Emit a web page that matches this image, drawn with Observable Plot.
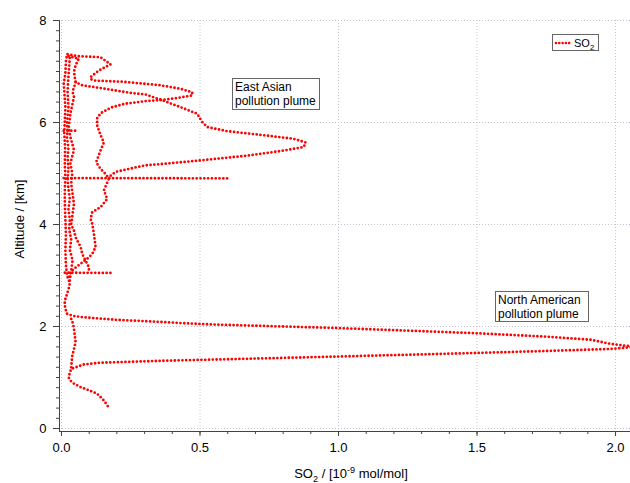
<!DOCTYPE html>
<html><head><meta charset="utf-8">
<script src="https://cdn.jsdelivr.net/npm/d3@7"></script>
<script src="https://cdn.jsdelivr.net/npm/@observablehq/plot@0.6"></script>
<style>
body{margin:0;background:#fff;font-family:"Liberation Sans",Arial,sans-serif;color:#000}
#wrap{position:relative;width:630px;height:483px;overflow:hidden}
.ov{position:absolute;white-space:nowrap}
.box{position:absolute;border:1px solid #666;background:#fff;font-size:12px;line-height:14px;padding:1px 2px 1px 2px;box-sizing:border-box;white-space:nowrap}
sub,sup{font-size:70%;line-height:0}
</style></head>
<body><div id="wrap"></div>
<script>
// [SO2 (10^-9 mol/mol), altitude (km)]
const lowProfileAndNAPlume = [
  [0.167,0.44],[0.153,0.55],[0.129,0.68],[0.099,0.75],[0.069,0.81],[0.045,0.88],[0.032,0.94],[0.026,1.00],
  [0.030,1.09],[0.035,1.17],[0.057,1.21],[0.080,1.255],[0.140,1.29],[0.260,1.31],[0.380,1.33],[0.540,1.35],
  [0.995,1.41],[1.488,1.48],[1.753,1.52],[1.982,1.56],[2.070,1.60],[1.982,1.66],[1.910,1.74],[1.753,1.80],
  [1.488,1.87],[0.995,1.97],[0.540,2.04],[0.440,2.065],[0.320,2.10],[0.200,2.13],[0.080,2.18],[0.040,2.21],
  [0.020,2.25],[0.014,2.35],[0.011,2.44],[0.014,2.54],[0.020,2.64],[0.026,2.74],[0.030,2.85],
  [0.020,3.00],[0.016,3.20],[0.014,3.50],[0.016,3.80],[0.014,4.10],[0.012,4.40],[0.012,4.70],[0.014,4.90],
  [0.012,5.20],[0.013,5.50],[0.010,5.80],[0.012,6.04],[0.014,6.30],[0.008,6.76],[0.014,6.96],[0.016,7.20],[0.020,7.34],
  [0.060,7.30],[0.141,7.28],[0.177,7.14],[0.135,7.02],[0.105,6.89],[0.105,6.85],[0.123,6.82],[0.219,6.80],
  [0.280,6.77],[0.357,6.73],[0.430,6.66],[0.472,6.59],[0.472,6.53],[0.405,6.47],[0.357,6.44],[0.303,6.42],
  [0.249,6.38],[0.231,6.37],[0.183,6.30],[0.147,6.20],[0.129,6.10],[0.129,5.94],[0.141,5.75],[0.153,5.61],
  [0.141,5.45],[0.125,5.22],[0.141,5.09],[0.159,4.99],[0.171,4.90],[0.153,4.67],[0.165,4.50],[0.141,4.34],
  [0.111,4.24],[0.105,4.11],[0.111,4.01],[0.117,3.82],[0.123,3.56],[0.111,3.42],[0.093,3.33],[0.069,3.23],
  [0.045,3.13],[0.032,3.06],[0.028,2.95]
];
const columnBelowPlume = [
  [0.035,1.20],[0.039,1.43],[0.045,1.56],[0.051,1.69],[0.048,1.82],[0.045,1.95],[0.042,2.05],[0.035,2.15],[0.040,2.21]
];
const eastAsianPlume = [
  [0.026,7.30],[0.062,7.25],[0.051,7.12],[0.045,6.99],[0.051,6.79],[0.075,6.73],[0.159,6.66],[0.249,6.58],
  [0.303,6.55],[0.357,6.45],[0.430,6.30],[0.490,6.17],[0.508,6.01],[0.526,5.91],[0.598,5.83],[0.730,5.75],
  [0.838,5.68],[0.881,5.61],[0.875,5.52],[0.803,5.45],[0.670,5.35],[0.490,5.25],[0.370,5.19],[0.303,5.16],
  [0.243,5.09],[0.195,5.03],[0.171,4.93]
];
const columnMiddle = [
  [0.051,6.79],[0.040,6.60],[0.045,6.50],[0.032,6.17],[0.026,5.91],[0.032,5.72],[0.045,5.46],[0.032,5.20],
  [0.039,5.00],[0.035,4.80],[0.040,4.60],[0.045,4.40],[0.040,4.20],[0.035,4.00],[0.045,3.88],[0.051,3.75],
  [0.069,3.56],[0.075,3.42],[0.087,3.29],[0.099,3.16],[0.099,3.08]
];
const columnRight = [
  [0.030,2.90],[0.035,3.10],[0.040,3.30],[0.030,3.50],[0.035,3.70],[0.028,3.90],[0.030,4.10],[0.025,4.30],
  [0.030,4.50],[0.025,4.70],[0.022,4.90],[0.025,5.10],[0.022,5.30],[0.025,5.50],[0.020,5.70],[0.022,5.85],
  [0.020,6.00],[0.025,6.30],[0.022,6.60],[0.025,6.90],[0.028,7.10],[0.030,7.30]
];
const levelLeg49 = [[0.008,4.91],[0.610,4.905]];
const levelLeg305 = [[0.012,3.055],[0.177,3.05]];
const levelLeg584 = [[0.008,5.84],[0.057,5.84]];

const xMajor = [0, 0.5, 1.0, 1.5, 2.0];
const xMinor = d3.range(0, 2.05, 0.1);
const yMajor = [0, 2, 4, 6, 8];
const yMinor = d3.range(0, 8.01, 0.2);

const segs = [["a", lowProfileAndNAPlume], ["b", columnBelowPlume], ["c", eastAsianPlume],
  ["d", columnMiddle], ["e", columnRight], ["f", levelLeg49], ["g", levelLeg305], ["h", levelLeg584]];
const data = segs.flatMap(([id, pts]) => pts.map(([so2, alt]) => ({id, so2, alt})));

const xDomain = [-0.0072, 2.054];
const yDomain = [-0.0588, 8];
const grid = {stroke: "#c4c4d0", strokeOpacity: 1, strokeDasharray: "1,2"};

const chart = Plot.plot({
  width: 630, height: 483,
  marginLeft: 59, marginRight: 0, marginTop: 20, marginBottom: 52,
  style: {fontFamily: "'Liberation Sans', Arial, sans-serif", fontSize: "13px", background: "white", color: "#000"},
  x: {domain: xDomain, label: null},
  y: {domain: yDomain, label: null},
  marks: [
    Plot.gridX(xMajor, grid),
    Plot.gridY(yMajor, grid),
    Plot.line(data, {x: "so2", y: "alt", z: "id", stroke: "#ff0000", strokeWidth: 2.8,
      strokeDasharray: "0 3.8", strokeLinecap: "round", clip: true}),
    Plot.ruleX([xDomain[0]], {stroke: "#444"}),
    Plot.ruleY([yDomain[0]], {stroke: "#444"}),
    Plot.axisX(xMinor, {tickSize: 3, tickFormat: () => "", stroke: "#444", label: null}),
    Plot.axisX(xMajor, {tickSize: 5, tickPadding: 6, tickFormat: d3.format(".1f"), stroke: "#444", fill: "#000", label: null}),
    Plot.axisY(yMinor, {tickSize: 3, tickFormat: () => "", stroke: "#444", label: null}),
    Plot.axisY(yMajor, {tickSize: 6, tickPadding: 7, tickFormat: d => d, stroke: "#444", fill: "#000", label: null})
  ]
});
const wrap = document.getElementById("wrap");
wrap.appendChild(chart);
wrap.insertAdjacentHTML("beforeend", `
<div class="ov" style="left:19px;top:219px;font-size:13px;transform:translate(-50%,-50%) rotate(-90deg)">Altitude / [km]</div>
<div class="ov" style="left:351px;top:466px;font-size:13px;transform:translateX(-50%)">SO<sub>2</sub> / [10<sup>-9</sup> mol/mol]</div>
<div class="box" style="left:232px;top:78px;width:88px;height:32px">East Asian<br>pollution plume</div>
<div class="box" style="left:495px;top:291px;width:94px;height:31px">North American<br>pollution plume</div>
<div class="box" style="left:552px;top:34px;width:47px;height:17px;font-size:11px;line-height:14px;padding:0 1px;display:flex;align-items:center">
<svg width="18" height="6" style="margin-right:2px;flex:none"><line x1="2" y1="3" x2="17" y2="3" stroke="#f00" stroke-width="2.6" stroke-dasharray="0 3.3" stroke-linecap="round"/></svg><span>SO<sub>2</sub></span></div>
`);
</script>
</body></html>
